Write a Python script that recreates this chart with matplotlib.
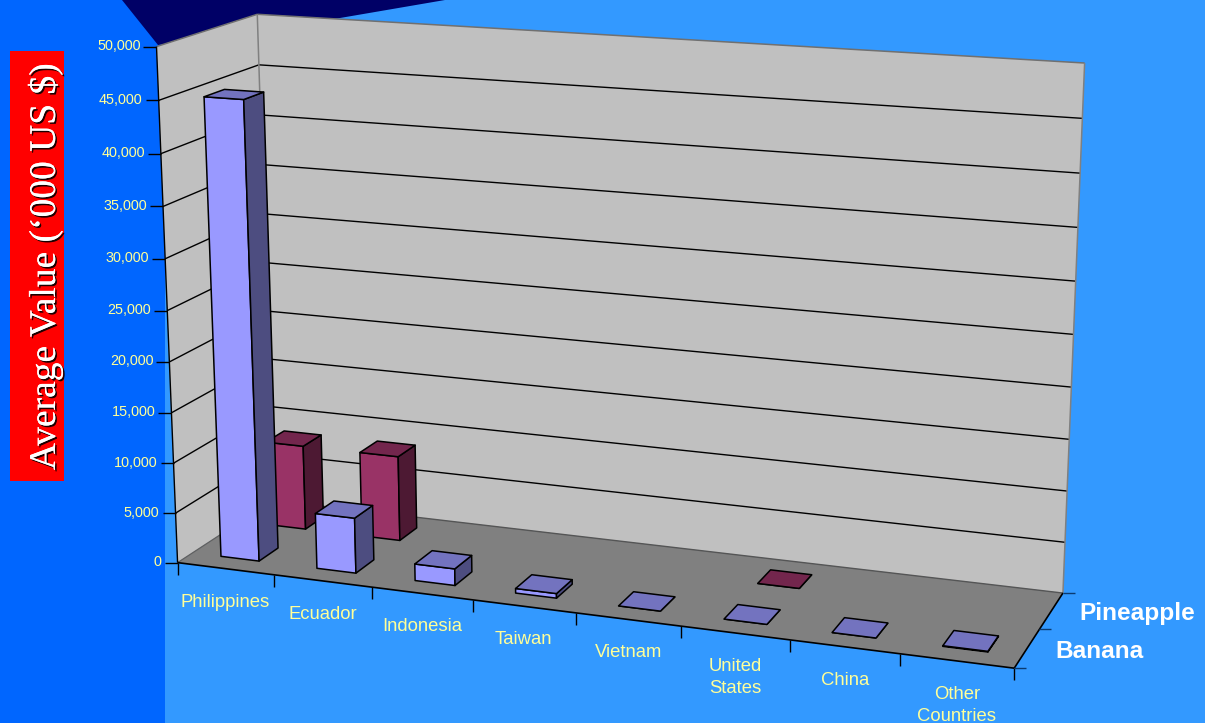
import numpy as np
import matplotlib
matplotlib.use("Agg")
import matplotlib.pyplot as plt
from matplotlib.patches import Polygon, Rectangle
import matplotlib.patheffects as pe

# Chart data
categories = ["Philippines", "Ecuador", "Indonesia", "Taiwan", "Vietnam",
              "United\nStates", "China", "Other\nCountries"]
series_names = ["Banana", "Pineapple"]
banana_values = [45000, 5500, 1650, 450, 0, 0, 0, 60]
pineapple_values = [8600, 8600, None, None, None, 0, None, None]
value_ticks = [0, 5000, 10000, 15000, 20000, 25000, 30000, 35000, 40000, 45000, 50000]
value_max = 50000
value_title = "Average Value (\u2018000 US $)"

# Colours
BAND = "#0066FF"
BACKDROP = "#3399FF"
NAVY = "#000066"
WALL = "#C0C0C0"
FLOOR = "#808080"
TICK_TEXT = "#FFFF99"
BANANA_FACES = ("#9999FF", "#4D4D80", "#7373BF")
PINEAPPLE_FACES = ("#993366", "#4D1933", "#73264D")

# Camera calibration: (category, depth, height fraction) -> (pixel x, pixel y)
view_world = [(0, 0, 0), (1, 0, 0), (2, 0, 0), (3, 0, 0), (4, 0, 0), (5, 0, 0), (6, 0, 0), (7, 0, 0),
              (8, 0, 0), (8, 1, 0), (8, 2, 0), (0, 2, 0), (0, 0, 1), (0, 0, .9), (0, 0, .8), (0, 0, .7),
              (0, 0, .6), (0, 0, .3), (0, 0, .2), (0, 0, .1), (8, 2, 1), (8, 2, .9), (8, 2, .8), (8, 2, .1),
              (0, 2, 1), (0, 2, .9)]
view_pixel = [(177.5, 563), (273.7, 575), (371.3, 587.3), (472, 600), (575.7, 613), (680, 626), (789.7, 640),
              (900.3, 654), (1014.3, 668.3), (1040, 629.3), (1062.7, 592.7), (273.5, 500.7), (156.7, 46.3),
              (159, 100), (161.3, 153.3), (163.3, 206.3), (165.3, 259), (171.7, 412.3), (173.7, 462.7),
              (175.7, 513.7), (1085, 63.7), (1082.3, 118.7), (1080, 173.3), (1065.5, 541), (256, 14),
              (258.7, 65.3)]


def fit_camera(world, pixel):
    rows = []
    for (x, y, z), (u, v) in zip(world, pixel):
        u, v = u / 1000, v / 1000
        rows.append([x, y, z, 1, 0, 0, 0, 0, -u * x, -u * y, -u * z, -u])
        rows.append([0, 0, 0, 0, x, y, z, 1, -v * x, -v * y, -v * z, -v])
    return np.linalg.svd(np.array(rows))[2][-1].reshape(3, 4)


CAMERA = fit_camera(view_world, view_pixel)


def project(x, y, value=0.0):
    h = CAMERA @ np.array([x, y, value / value_max, 1.0])
    return h[0] / h[2] * 1000, h[1] / h[2] * 1000


def face(ax, corners, fc, ec="black", lw=1.1, z=2):
    ax.add_patch(Polygon([project(*c) for c in corners], closed=True, fc=fc, ec=ec, lw=lw,
                         joinstyle="round", zorder=z))


def segment(ax, a, b, color="black", lw=1.0, z=3):
    pa, pb = project(*a), project(*b)
    ax.plot([pa[0], pb[0]], [pa[1], pb[1]], color=color, lw=lw, zorder=z, solid_capstyle="butt")


def draw_bar(ax, cat, row, value, colours):
    x0, x1 = cat + 0.3, cat + 0.7
    y0, y1 = row + 0.3, row + 0.7
    front, side, top = colours
    face(ax, [(x0, y0, 0), (x1, y0, 0), (x1, y0, value), (x0, y0, value)], front, z=5)
    face(ax, [(x1, y0, 0), (x1, y1, 0), (x1, y1, value), (x1, y0, value)], side, z=5)
    face(ax, [(x0, y0, value), (x1, y0, value), (x1, y1, value), (x0, y1, value)], top, z=5)


fig = plt.figure(figsize=(12.05, 7.23), dpi=100, facecolor=BACKDROP)
ax = fig.add_axes([0, 0, 1, 1])
ax.set_xlim(0, 1205)
ax.set_ylim(723, 0)
ax.axis("off")

# Slide background shapes
ax.add_patch(Rectangle((0, 0), 165, 723, fc=BAND, ec="none", zorder=0))
ax.add_patch(Polygon([(122, 0), (158, 45), (340, 18), (445, 0)], closed=True, fc=NAVY, ec="none", zorder=0.5))

# Value axis title panel
ax.add_patch(Rectangle((10, 51), 54, 430, fc="#FF0000", ec="none", zorder=1))
ax.text(45, 267, value_title, rotation=90, ha="center", va="center", color="white",
        family="Liberation Serif", fontsize=27, zorder=2,
        path_effects=[pe.withSimplePatchShadow(offset=(1.2, -1.2), shadow_rgbFace="black", alpha=0.9), pe.Normal()])

# Walls and floor
n = len(categories)
face(ax, [(0, 0, 0), (0, 2, 0), (0, 2, value_max), (0, 0, value_max)], WALL, ec="none", lw=0, z=1.5)
face(ax, [(0, 2, 0), (n, 2, 0), (n, 2, value_max), (0, 2, value_max)], WALL, ec="none", lw=0, z=1.5)
face(ax, [(0, 0, 0), (n, 0, 0), (n, 2, 0), (0, 2, 0)], FLOOR, ec="none", lw=0, z=1.6)

# Gridlines across both walls
for v in value_ticks[1:-1]:
    segment(ax, (0, 0, v), (0, 2, v), lw=1.0)
    segment(ax, (0, 2, v), (n, 2, v), lw=1.0)

# Wall outlines
segment(ax, (0, 0, value_max), (0, 2, value_max), color="#707070", lw=1.1)
segment(ax, (0, 2, value_max), (n, 2, value_max), color="#707070", lw=1.1)
segment(ax, (0, 2, 0), (0, 2, value_max), color="#808080", lw=1.1)
segment(ax, (n, 2, 0), (n, 2, value_max), color="#808080", lw=1.1)
segment(ax, (0, 2, 0), (n, 2, 0), color="#555555", lw=1.0)
segment(ax, (0, 0, 0), (0, 2, 0), color="#606060", lw=0.9)

# Axis lines
segment(ax, (0, 0, 0), (0, 0, value_max), lw=1.0, z=4)
segment(ax, (0, 0, 0), (n, 0, 0), lw=1.2, z=4)
segment(ax, (n, 0, 0), (n, 2, 0), lw=1.2, z=4)

# Value ticks and labels
for v in value_ticks:
    px, py = project(0, 0, v)
    ax.plot([px - 13, px], [py, py], color="black", lw=1.0, zorder=4, solid_capstyle="butt")
    ax.text(px - 16, py - 0.5, f"{v:,}", ha="right", va="center", color=TICK_TEXT,
            family="Liberation Sans", fontsize=10.4)

# Category ticks and labels
for i in range(n + 1):
    px, py = project(i, 0)
    ax.plot([px, px], [py, py + 12], color="black", lw=1.0, zorder=4, solid_capstyle="butt")
for i, name in enumerate(categories):
    px, py = project(i + 0.5, 0)
    ax.text(px, py + 25, name, ha="center", va="top", color=TICK_TEXT, family="Liberation Sans",
            fontsize=13.3, linespacing=1.38, multialignment="center")

# Series ticks and labels
for j in range(len(series_names) + 1):
    px, py = project(n, j)
    ax.plot([px, px + 12], [py, py], color="#0B3A70", lw=1.0, zorder=4, solid_capstyle="butt")
for j, name in enumerate(series_names):
    px, py = project(n, j + 0.5)
    ax.text(px + 28, py + 3, name, ha="left", va="center", color="white", family="Liberation Sans",
            fontweight="bold", fontsize=17.6)

# Bars, back row first so the front row overlaps it
for i, v in enumerate(pineapple_values):
    if v is not None:
        draw_bar(ax, i, 1, v, PINEAPPLE_FACES)
for i, v in enumerate(banana_values):
    if v is not None:
        draw_bar(ax, i, 0, v, BANANA_FACES)

fig.savefig("out.png", dpi=100, facecolor=BACKDROP)
